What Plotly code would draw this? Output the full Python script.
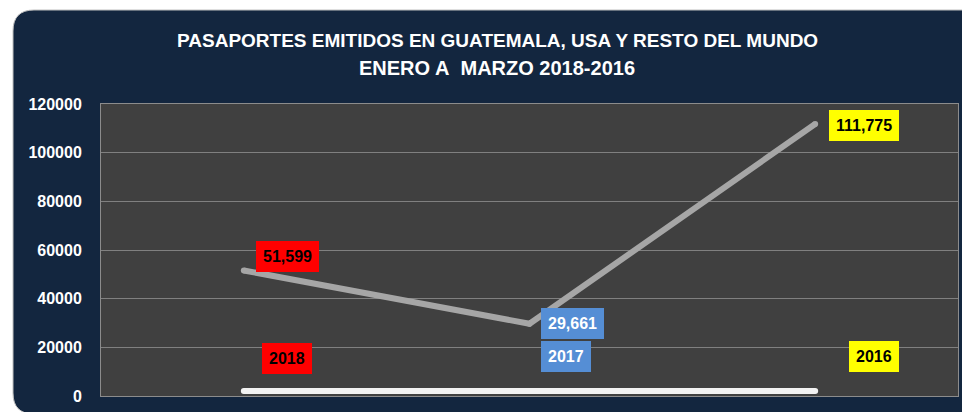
import plotly.graph_objects as go

# ---- data ----
categories = ["2018", "2017", "2016"]
pasaportes = [51599, 29661, 111775]
anios = [2018, 2017, 2016]
label_colors = ["#ff0000", "#558ed5", "#ffff00"]
label_text_colors = ["#000000", "#ffffff", "#000000"]
title_lines = ["PASAPORTES EMITIDOS EN GUATEMALA, USA Y RESTO DEL MUNDO",
               "ENERO A\u00a0 MARZO 2018-2016"]
y_ticks = [0, 20000, 40000, 60000, 80000, 100000, 120000]

# ---- layout geometry (pixels) ----
W, H = 962, 412
ML, MR, MT, MB = 101, 4, 104, 16
PW, PH = W - ML - MR, H - MT - MB


def px(x):
    return (x - ML) / PW


def py(y):
    return (H - MB - y) / PH


def rounded_rect(x0, y0, x1, y1, r):
    pts = [
        f"M {px(x0 + r)},{py(y0)}",
        f"L {px(x1 - r)},{py(y0)}",
        f"Q {px(x1)},{py(y0)} {px(x1)},{py(y0 + r)}",
        f"L {px(x1)},{py(y1 - r)}",
        f"Q {px(x1)},{py(y1)} {px(x1 - r)},{py(y1)}",
        f"L {px(x0 + r)},{py(y1)}",
        f"Q {px(x0)},{py(y1)} {px(x0)},{py(y1 - r)}",
        f"L {px(x0)},{py(y0 + r)}",
        f"Q {px(x0)},{py(y0)} {px(x0 + r)},{py(y0)}",
        "Z",
    ]
    return " ".join(pts)


FONT = "Liberation Sans, Arial, sans-serif"

fig = go.Figure()

fig.add_trace(go.Scatter(
    x=categories, y=pasaportes, mode="lines+markers",
    line=dict(color="#a6a6a6", width=6),
    marker=dict(color="#a6a6a6", size=6),
    hoverinfo="skip", showlegend=False,
))
fig.add_trace(go.Scatter(
    x=categories, y=anios, mode="lines+markers",
    line=dict(color="#f2f2f2", width=6),
    marker=dict(color="#f2f2f2", size=6),
    hoverinfo="skip", showlegend=False,
))

value_offsets = [(44, 14), (43, 0), (49, -1)]
year_offsets = [(43, 33), (36, 35), (59, 35)]

annotations = []
for i, c in enumerate(categories):
    for val, txt, off in ((pasaportes[i], f"{pasaportes[i]:,}", value_offsets[i]),
                          (anios[i], str(anios[i]), year_offsets[i])):
        annotations.append(dict(
            x=i, y=val, xref="x", yref="y", text=txt, showarrow=False,
            xshift=off[0], yshift=off[1],
            bgcolor=label_colors[i], bordercolor=label_colors[i], borderwidth=1,
            borderpad=6,
            font=dict(family=FONT, size=16, color=label_text_colors[i], weight="bold"),
        ))

for line_text, yc, fs in zip(title_lines, (40, 68), (19, 20)):
    annotations.append(dict(
        x=px(497), y=py(yc), xref="paper", yref="paper",
        xanchor="center", yanchor="middle", showarrow=False,
        text=line_text,
        font=dict(family=FONT, size=fs, color="#ffffff", weight="bold"),
    ))

fig.update_layout(
    width=W, height=H, autosize=False,
    margin=dict(l=ML, r=MR, t=MT, b=MB, pad=0),
    paper_bgcolor="#ffffff",
    plot_bgcolor="#404040",
    hovermode=False,
    xaxis=dict(
        type="category", range=[-0.5, 2.5], showticklabels=False,
        showgrid=False, zeroline=False, ticks="",
        showline=True, linecolor="#8c8c8c", linewidth=1, mirror=True,
    ),
    yaxis=dict(
        range=[0, 120000], tickvals=y_ticks, ticktext=[str(v) for v in y_ticks],
        showgrid=True, gridcolor="#808080", gridwidth=1, zeroline=False,
        ticks="", ticklabelstandoff=15,
        tickfont=dict(family=FONT, size=16, color="#ffffff", weight="bold"),
        showline=True, linecolor="#8c8c8c", linewidth=1, mirror=True,
    ),
    shapes=[
        dict(type="path", xref="paper", yref="paper", layer="below",
             path=rounded_rect(13, 10, 990, 414, 21),
             fillcolor="#13263f", line=dict(color="#bfbfbf", width=1)),
        dict(type="rect", xref="paper", yref="paper", layer="below",
             x0=0, x1=1, y0=0, y1=1, fillcolor="#404040", line=dict(width=0)),
    ],
    annotations=annotations,
)

fig.write_html(
    "out.html",
    config={"displayModeBar": False},
    post_script="document.body.style.margin='0';document.body.style.overflow='hidden';",
)
